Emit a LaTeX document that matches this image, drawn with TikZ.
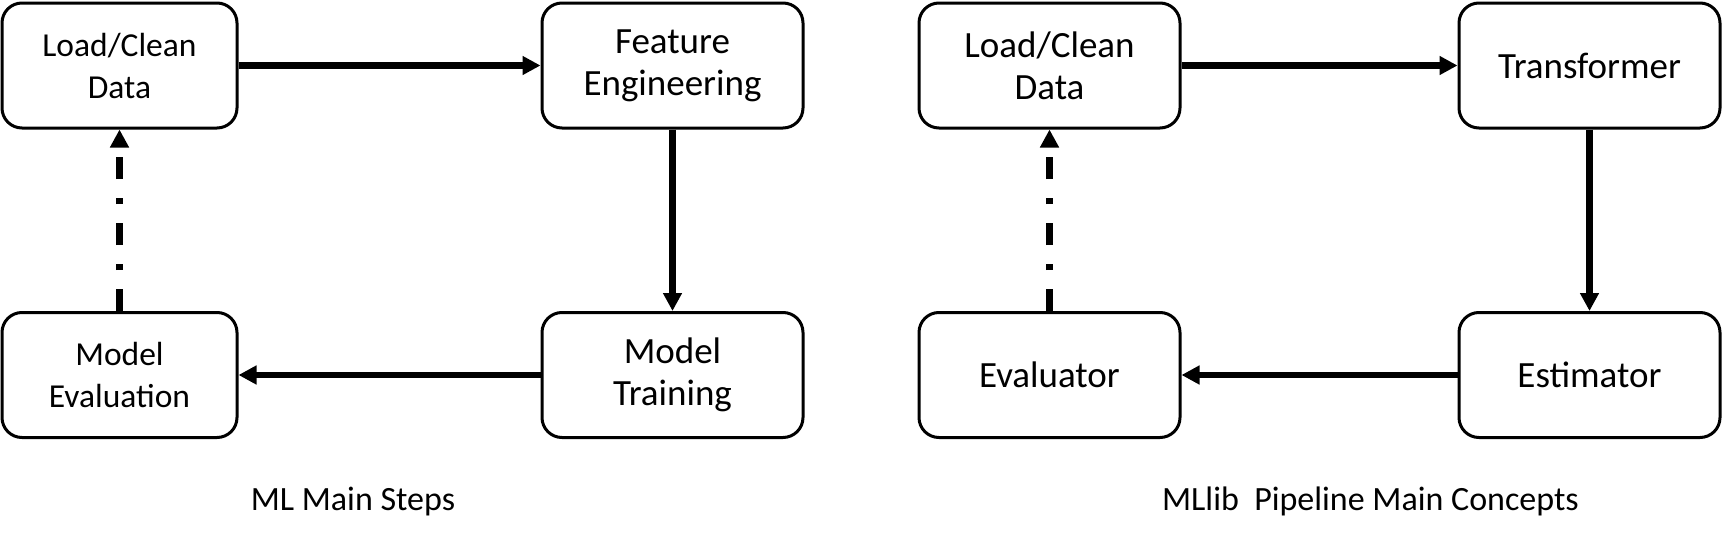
\documentclass[tikz,border=0pt]{standalone}
\usepackage{fontspec}
\setmainfont{Carlito}
\usetikzlibrary{arrows.meta}
\begin{document}
\begin{tikzpicture}[x=1pt,y=-1pt,
  box/.style={draw=black, line width=3pt, rounded corners=20pt, align=center,
    inner sep=0pt, minimum height=125pt},
  wbox/.style={box, minimum width=261pt, font=\fontsize{37}{42}\selectfont},
  nbox/.style={box, minimum width=235pt, font=\fontsize{33.5}{42}\selectfont},
  flow/.style={line width=6.5pt, -{Triangle[length=18pt,width=18pt]}},
  back/.style={flow, dash pattern=on 22pt off 19pt on 6pt off 19pt},
  caption/.style={anchor=base, font=\fontsize{34}{42}\selectfont}]
\useasboundingbox (0,0) rectangle (1725,554);
% left diagram
\node[nbox] (lc1) at (119.5,65.5) {Load/Clean\\Data};
\node[wbox] (fe)  at (672.5,65.5) {Feature\\Engineering};
\node[wbox] (mt)  at (672.5,375) {Model\\Training};
\node[nbox] (me)  at (119.5,375) {Model\\Evaluation};
\draw[flow] (lc1) -- (fe);
\draw[flow] (fe) -- (mt);
\draw[flow] (mt) -- (me);
\draw[back] (me) -- (lc1);
\node[caption] (cap1) at (353,510) {ML Main Steps};
% right diagram
\node[wbox] (lc2) at (1049.5,65.5) {Load/Clean\\Data};
\node[wbox] (tr)  at (1589.5,65.5) {Transformer};
\node[wbox] (es)  at (1589.5,375) {Estimator};
\node[wbox] (ev)  at (1049.5,375) {Evaluator};
\draw[flow] (lc2) -- (tr);
\draw[flow] (tr) -- (es);
\draw[flow] (es) -- (ev);
\draw[back] (ev) -- (lc2);
\node[caption] (cap2) at (1370.5,510) {MLlib\ \ Pipeline Main Concepts};
\end{tikzpicture}
\end{document}
